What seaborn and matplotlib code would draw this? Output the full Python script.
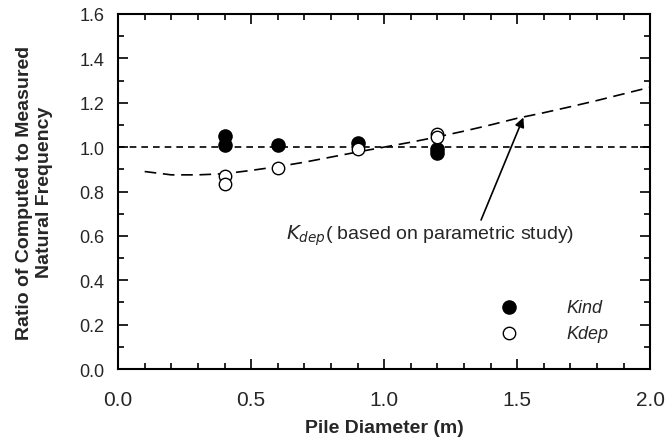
import numpy as np
import pandas as pd
import seaborn as sns
import matplotlib.pyplot as plt
from matplotlib.ticker import MultipleLocator

kind_x = [0.4, 0.4, 0.6, 0.9, 1.2, 1.2]
kind_y = [1.05, 1.01, 1.01, 1.02, 0.99, 0.975]
kdep_x = [0.4, 0.4, 0.6, 0.9, 1.2, 1.2]
kdep_y = [0.87, 0.835, 0.905, 0.99, 1.06, 1.045]

# 파라메트릭 연구 곡선
curve_x = [0.1, 0.2, 0.3, 0.4, 0.5, 0.6, 0.7, 0.8, 0.9, 1.0,
           1.1, 1.2, 1.3, 1.4, 1.5, 1.6, 1.7, 1.8, 1.9, 2.0]
curve_y = [0.89, 0.875, 0.875, 0.88, 0.895, 0.912, 0.932, 0.955, 0.978, 1.0,
           1.022, 1.046, 1.072, 1.1, 1.13, 1.155, 1.182, 1.21, 1.24, 1.27]

sns.set_theme(style="ticks")
plt.rcParams['font.family'] = ['Liberation Sans', 'DejaVu Sans']

fig = plt.figure(figsize=(6.67, 4.39), dpi=100)
ax = fig.add_axes([0.177, 0.157, 0.798, 0.809])

curve_df = pd.DataFrame({'x': curve_x, 'y': curve_y})
sns.lineplot(data=curve_df, x='x', y='y', ax=ax, color='black', lw=1.2,
             dashes=False, linestyle=(0, (7, 4)))
ax.axhline(1.0, color='black', lw=1.2, linestyle=(0, (4, 3)))

sns.scatterplot(x=kind_x, y=kind_y, ax=ax, s=90, color='black',
                edgecolor='black', linewidth=1, label='Kind', zorder=3)
sns.scatterplot(x=kdep_x, y=kdep_y, ax=ax, s=80, facecolor='white',
                edgecolor='black', linewidth=1, label='Kdep', zorder=3)

ax.annotate('', xy=(1.527, 1.145), xytext=(1.36, 0.66),
            arrowprops=dict(arrowstyle='-|>', color='black', lw=1.2,
                            mutation_scale=14))
ax.text(0.63, 0.605, r'$K_{dep}$( based on parametric study)', fontsize=14,
        va='center', ha='left')

ax.set_xlim(0, 2.0)
ax.set_ylim(0, 1.6)
ax.xaxis.set_major_locator(MultipleLocator(0.5))
ax.xaxis.set_minor_locator(MultipleLocator(0.1))
ax.yaxis.set_major_locator(MultipleLocator(0.2))
ax.yaxis.set_minor_locator(MultipleLocator(0.1))
ax.set_xticklabels([f'{v:.1f}' for v in ax.get_xticks()])
ax.set_yticklabels([f'{v:.1f}' for v in ax.get_yticks()])
ax.tick_params(which='both', direction='in', top=True, right=True,
               color='black', width=1.2)
ax.tick_params(which='major', length=7)
ax.tick_params(which='minor', length=4)
ax.tick_params(axis='x', which='major', labelsize=15, pad=15)
ax.tick_params(axis='y', which='major', labelsize=13, pad=10)
for sp in ax.spines.values():
    sp.set_linewidth(1.5)
    sp.set_color('black')

ax.set_xlabel('Pile Diameter (m)', fontsize=14, fontweight='bold', labelpad=7)
ax.set_ylabel('Ratio of Computed to Measured\nNatural Frequency', fontsize=14,
              fontweight='bold', labelpad=19)

leg = ax.legend(loc='lower right', bbox_to_anchor=(0.952, 0.031), frameon=False,
                prop={'style': 'italic', 'size': 13}, handletextpad=2.2,
                labelspacing=0.5)

fig.savefig('out.png', dpi=100)
